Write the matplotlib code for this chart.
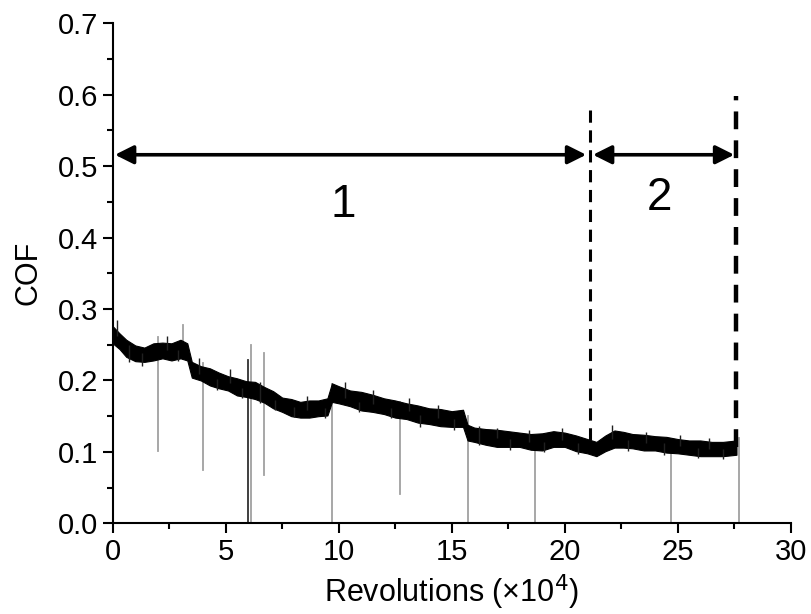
"""COF vs revolutions with two wear stages marked."""
import numpy as np
import matplotlib
matplotlib.use("Agg")
import matplotlib.pyplot as plt
from matplotlib.ticker import MultipleLocator

plt.rcParams["font.family"] = ["Liberation Sans", "DejaVu Sans"]

# friction trace (x in 1e4 revolutions)
rev = [0.0, 0.3, 0.6, 1.0, 1.4, 1.8, 2.2, 2.6, 3.0, 3.3, 3.5, 3.9, 4.3, 4.7,
       5.1, 5.5, 5.9, 6.3, 6.7, 7.1, 7.5, 7.9, 8.3, 8.7, 9.1, 9.5, 9.7, 10.0,
       10.5, 11.0, 11.5, 12.0, 12.5, 13.0, 13.5, 14.0, 14.5, 15.0, 15.5, 15.7,
       16.0, 16.5, 17.0, 17.5, 18.0, 18.5, 19.0, 19.5, 20.0, 20.5, 21.0, 21.4,
       21.8, 22.2, 22.6, 23.0, 23.5, 24.0, 24.5, 25.0, 25.5, 26.0, 26.5, 27.0,
       27.6]
cof_mid = [0.264, 0.255, 0.245, 0.238, 0.236, 0.240, 0.242, 0.240, 0.244,
           0.240, 0.215, 0.210, 0.205, 0.200, 0.196, 0.191, 0.188, 0.186,
           0.180, 0.173, 0.166, 0.162, 0.159, 0.160, 0.161, 0.163, 0.183,
           0.180, 0.175, 0.171, 0.168, 0.164, 0.160, 0.157, 0.153, 0.150,
           0.148, 0.146, 0.147, 0.127, 0.124, 0.121, 0.119, 0.118, 0.117,
           0.114, 0.114, 0.118, 0.117, 0.112, 0.108, 0.104, 0.112, 0.118,
           0.117, 0.115, 0.113, 0.112, 0.110, 0.108, 0.106, 0.105, 0.104,
           0.104, 0.106]
cof_half = [0.012, 0.011, 0.012, 0.011, 0.010, 0.012, 0.011, 0.012, 0.013,
            0.012, 0.011, 0.010, 0.012, 0.011, 0.010, 0.012, 0.011, 0.012,
            0.011, 0.012, 0.010, 0.012, 0.011, 0.012, 0.011, 0.012, 0.013,
            0.012, 0.011, 0.013, 0.012, 0.011, 0.012, 0.011, 0.012, 0.011,
            0.012, 0.011, 0.012, 0.011, 0.010, 0.011, 0.012, 0.011, 0.010,
            0.011, 0.012, 0.011, 0.010, 0.011, 0.010, 0.010, 0.011, 0.012,
            0.011, 0.010, 0.011, 0.010, 0.011, 0.010, 0.010, 0.011, 0.010,
            0.010, 0.010]

# short noise excursions sticking out of the band (one side each)
hair_x = [0.2, 0.7, 1.3, 2.4, 2.9, 3.8, 4.6, 5.2, 5.7, 6.5, 7.2, 8.0, 8.6,
          9.4, 10.3, 10.9, 11.5, 12.3, 13.1, 13.6, 14.4, 15.1, 16.2, 17.0,
          17.6, 18.4, 19.1, 19.9, 20.6, 22.1, 22.8, 23.6, 24.4, 25.1, 25.9,
          26.4, 27.0]
hair_lo = [0.262, 0.226, 0.220, 0.242, 0.227, 0.209, 0.186, 0.196, 0.175,
           0.168, 0.159, 0.149, 0.159, 0.148, 0.176, 0.156, 0.167, 0.148,
           0.157, 0.135, 0.147, 0.130, 0.110, 0.119, 0.103, 0.114, 0.100,
           0.117, 0.097, 0.118, 0.101, 0.113, 0.095, 0.108, 0.091, 0.104,
           0.090]
hair_hi = [0.285, 0.250, 0.238, 0.262, 0.243, 0.231, 0.202, 0.216, 0.189,
           0.198, 0.173, 0.163, 0.178, 0.162, 0.198, 0.170, 0.186, 0.162,
           0.175, 0.152, 0.166, 0.146, 0.136, 0.133, 0.118, 0.131, 0.114,
           0.134, 0.112, 0.137, 0.116, 0.128, 0.112, 0.123, 0.106, 0.120,
           0.104]

# grey drop-outs: position, top, bottom
spike_x = [1.99, 3.10, 3.98, 6.12, 6.71, 9.69, 12.71, 15.70, 18.70, 24.70, 27.70]
spike_top = [0.261, 0.278, 0.225, 0.250, 0.238, 0.195, 0.170, 0.150, 0.120, 0.115, 0.120]
spike_bot = [0.101, 0.230, 0.074, 0.0, 0.068, 0.0, 0.041, 0.0, 0.0, 0.0, 0.0]
dark_x, dark_top = 6.0, 0.229

# stage boundaries and labels
bound_x = [21.1, 27.6]
bound_top = [0.583, 0.598]
bound_bot = [0.117, 0.107]
stage_span = [(0.1, 20.95), (21.25, 27.5)]
arrow_y = 0.516
stage_lbl = ["1", "2"]
stage_lbl_x = [10.2, 24.2]
stage_lbl_y = [0.445, 0.455]

fig = plt.figure(figsize=(8.12, 6.14), dpi=100)
ax = fig.add_axes([0.1388, 0.1477, 0.835, 0.8143])

for x, t, b in zip(spike_x, spike_top, spike_bot):
    ax.plot([x, x], [b, t], color="#a0a0a0", lw=1.3, zorder=2)
ax.plot([dark_x, dark_x], [0, dark_top], color="#303030", lw=1.3, zorder=2)

lo = np.array(cof_mid) - np.array(cof_half)
hi = np.array(cof_mid) + np.array(cof_half)
ax.fill_between(rev, lo, hi, color="black", lw=0.8, zorder=3)
ax.vlines(hair_x, hair_lo, hair_hi, color="#202020", lw=1.0, zorder=3)

for x, t, b, lw in zip(bound_x, bound_top, bound_bot, [2.2, 3.2]):
    ax.plot([x, x], [b, t], color="black", lw=lw, ls=(0, (4, 2.5)), zorder=4)

for (x0, x1) in stage_span:
    ax.annotate("", xy=(x0, arrow_y), xytext=(x1, arrow_y),
                arrowprops=dict(arrowstyle="<|-|>", color="black", lw=2.6,
                                mutation_scale=28, shrinkA=0, shrinkB=0))
for s, x, y in zip(stage_lbl, stage_lbl_x, stage_lbl_y):
    ax.text(x, y, s, fontsize=33, ha="center", va="center")

ax.set_xlim(0, 30)
ax.set_ylim(0, 0.7)
ax.xaxis.set_major_locator(MultipleLocator(5))
ax.xaxis.set_minor_locator(MultipleLocator(2.5))
ax.yaxis.set_major_locator(MultipleLocator(0.1))
ax.yaxis.set_minor_locator(MultipleLocator(0.05))
ax.yaxis.set_major_formatter(matplotlib.ticker.FormatStrFormatter("%.1f"))
for side in ["top", "right"]:
    ax.spines[side].set_visible(False)
for side in ["left", "bottom"]:
    ax.spines[side].set_linewidth(1.5)
ax.tick_params(which="major", direction="out", length=7, width=1.5, labelsize=21)
ax.tick_params(which="minor", direction="out", length=4, width=1.5)
ax.set_xlabel("Revolutions (×10$^4$)", fontsize=22, labelpad=5)
ax.set_ylabel("COF", fontsize=22, labelpad=10)

fig.savefig("out.png", dpi=100)
